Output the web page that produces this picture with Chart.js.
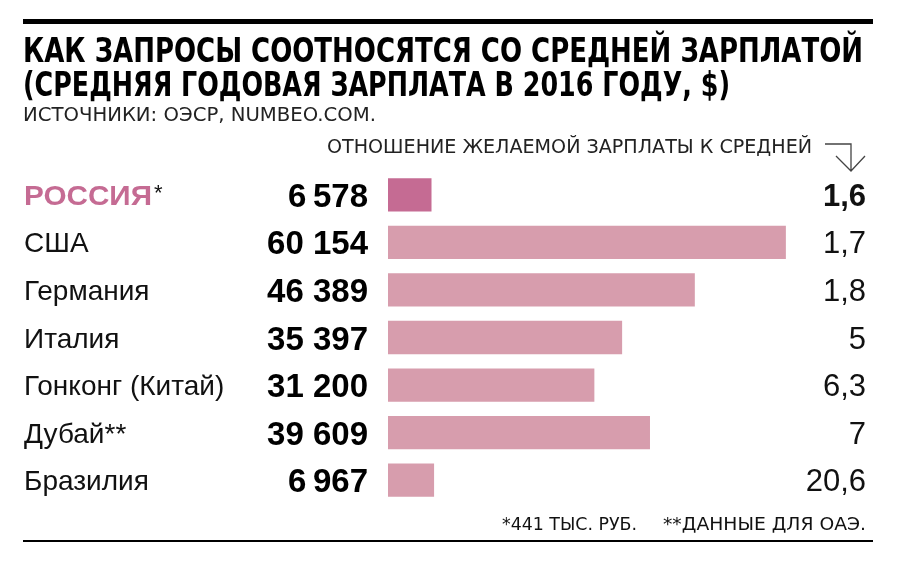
<!DOCTYPE html>
<html>
<head>
<meta charset="utf-8">
<script src="https://cdn.jsdelivr.net/npm/chart.js@4.4.1/dist/chart.umd.min.js"></script>
<style>
html,body{margin:0;padding:0;background:#fff;}
#wrap{width:904px;height:566px;position:relative;}
</style>
</head>
<body>
<div id="wrap"><canvas id="c" width="904" height="566"></canvas></div>
<script>
const countries = ["РОССИЯ", "США", "Германия", "Италия", "Гонконг (Китай)", "Дубай**", "Бразилия"];
const salaries = [6578, 60154, 46389, 35397, 31200, 39609, 6967];
const ratios = [1.6, 1.7, 1.8, 5, 6.3, 7, 20.6];
const titleLines = ["КАК ЗАПРОСЫ СООТНОСЯТСЯ СО СРЕДНЕЙ ЗАРПЛАТОЙ", "(СРЕДНЯЯ ГОДОВАЯ ЗАРПЛАТА В 2016 ГОДУ, $)"];
const sourceText = "ИСТОЧНИКИ: ОЭСР, NUMBEO.COM.";
const ratioHeader = "ОТНОШЕНИЕ ЖЕЛАЕМОЙ ЗАРПЛАТЫ К СРЕДНЕЙ";
const footnotes = ["*441 ТЫС. РУБ.", "**ДАННЫЕ ДЛЯ ОАЭ."];

const PINK_DARK = "#c56b93";
const PINK = "#d79dad";
const SANS = "'Liberation Sans', Arial, Helvetica, sans-serif";
const NARROW = "'Liberation Sans Narrow', 'DejaVu Sans Condensed', 'Liberation Sans', sans-serif";

function fmtSalary(v){
  const s = String(v);
  const head = s.slice(0, s.length-3), tail = s.slice(-3);
  return head + (v >= 10000 ? " " : "\u2009") + tail;
}
function fmtRatio(v){ return String(v).replace(".", ","); }

function fitText(ctx, text, x, y, width, align){
  const w = ctx.measureText(text).width;
  const sx = width / w;
  ctx.save();
  ctx.textAlign = "left";
  const left = align === "right" ? x - width : x;
  ctx.translate(left, y);
  ctx.scale(sx, 1);
  ctx.fillText(text, 0, 0);
  ctx.restore();
}

const overlay = {
  id: "overlay",
  afterDraw(chart){
    const ctx = chart.ctx;
    const yScale = chart.scales.y;
    ctx.save();
    ctx.textBaseline = "alphabetic";
    // rules
    ctx.fillStyle = "#000";
    ctx.fillRect(23, 19, 850, 5);
    ctx.fillRect(23, 540, 850, 2);
    // title
    ctx.font = "bold 34px " + NARROW;
    fitText(ctx, titleLines[0], 23, 62, 840, "left");
    fitText(ctx, titleLines[1], 23, 96, 707, "left");
    ctx.font = "20px " + NARROW;
    ctx.fillStyle = "#222";
    fitText(ctx, sourceText, 23, 121, 353, "left");
    // ratio header
    ctx.font = "19px " + NARROW;
    fitText(ctx, ratioHeader, 327, 153, 485, "left");
    // arrow
    ctx.strokeStyle = "#444";
    ctx.lineWidth = 1.3;
    ctx.beginPath();
    ctx.moveTo(825, 144); ctx.lineTo(851, 144); ctx.lineTo(851, 171);
    ctx.moveTo(836, 156); ctx.lineTo(851, 171); ctx.lineTo(865, 156);
    ctx.stroke();
    // rows
    countries.forEach((name, i) => {
      const cy = yScale.getPixelForValue(i);
      if (i === 0) {
        ctx.fillStyle = PINK_DARK;
        ctx.font = "bold 28px " + SANS;
        fitText(ctx, name, 24, cy + 10, 128, "left");
        ctx.font = "22px " + SANS;
        ctx.fillStyle = "#111";
        ctx.textAlign = "left";
        ctx.fillText("*", 154, cy + 5);
      } else {
        ctx.fillStyle = "#111";
        ctx.font = "28px " + SANS;
        ctx.textAlign = "left";
        ctx.fillText(name, 24, cy + 10);
      }
      ctx.fillStyle = "#000";
      ctx.font = "bold 33px " + SANS;
      ctx.textAlign = "right";
      ctx.fillText(fmtSalary(salaries[i]), 368, cy + 12);
      ctx.font = (i === 0 ? "bold " : "") + "31px " + SANS;
      ctx.fillStyle = "#111";
      ctx.fillText(fmtRatio(ratios[i]), 866, cy + 11);
    });
    // footnotes
    ctx.font = "17px " + NARROW;
    ctx.fillStyle = "#111";
    fitText(ctx, footnotes[0], 502, 530, 135, "left");
    fitText(ctx, footnotes[1], 866, 530, 203, "right");
    ctx.restore();
  }
};

new Chart(document.getElementById("c"), {
  type: "bar",
  data: {
    labels: countries,
    datasets: [{
      data: salaries,
      backgroundColor: salaries.map((v, i) => i === 0 ? PINK_DARK : PINK),
      borderWidth: 0,
      barPercentage: 0.7,
      categoryPercentage: 1.0
    }]
  },
  options: {
    indexAxis: "y",
    responsive: false,
    animation: false,
    layout: { padding: { left: 388, right: 53, top: 171, bottom: 62 } },
    scales: {
      x: { display: false, min: 0, max: 70000 },
      y: { display: false }
    },
    plugins: { legend: { display: false }, tooltip: { enabled: false }, title: { display: false } }
  },
  plugins: [overlay]
});
</script>
</body>
</html>
